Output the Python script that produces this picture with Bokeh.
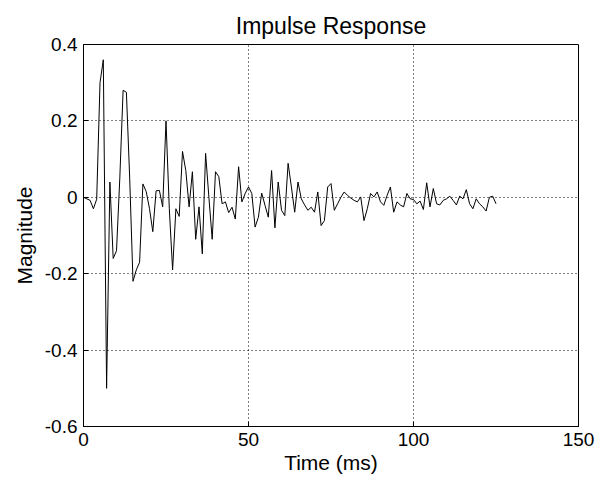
from bokeh.plotting import figure
from bokeh.models import Range1d, FixedTicker
from bokeh.embed import file_html
from bokeh.resources import INLINE

# Impulse response sampled every 1 ms
time_ms = list(range(0, 126))
magnitude = [
    0.0, -0.004, -0.008, -0.03, -0.005, 0.30, 0.36, -0.50, 0.04, -0.16,
    -0.14, 0.05, 0.28, 0.275, 0.05, -0.22, -0.19, -0.17, 0.035, 0.015,
    -0.03, -0.09, 0.017, 0.018, -0.025, 0.20, -0.03, -0.19, -0.03, -0.05,
    0.12, 0.07, -0.025, 0.067, -0.11, -0.025, -0.148, 0.115, 0.0, -0.11,
    0.067, 0.054, -0.017, -0.012, -0.04, -0.026, -0.057, 0.08, -0.012, 0.01,
    0.027, 0.01, -0.078, -0.052, 0.011, -0.021, -0.052, 0.07, -0.08, 0.04,
    -0.034, -0.048, 0.089, 0.027, -0.039, 0.04, -0.004, -0.02, -0.034, -0.026,
    -0.039, 0.014, -0.074, -0.061, 0.027, 0.036, -0.034, -0.017, 0.0, 0.014,
    0.005, -0.002, -0.008, -0.012, 0.001, -0.061, -0.03, 0.01, 0.001, 0.014,
    -0.012, -0.021, 0.005, 0.027, -0.039, -0.012, -0.02, -0.025, 0.01, -0.004,
    -0.006, -0.017, -0.01, -0.032, 0.038, -0.025, 0.023, -0.017, -0.02, -0.008,
    -0.004, 0.003, -0.008, -0.02, 0.003, -0.004, 0.02, -0.017, -0.03, -0.004,
    -0.017, -0.025, -0.036, 0.0, 0.003, -0.017,
]

x_ticks = [0, 50, 100, 150]
x_tick_labels = ["0", "50", "100", "150"]
y_ticks = [-0.6, -0.4, -0.2, 0, 0.2, 0.4]
y_tick_labels = ["-0.6", "-0.4", "-0.2", "0", "0.2", "0.4"]

FONT = "Liberation Sans"

p = figure(width=601, height=485, output_backend="svg", toolbar_location=None,
           x_range=Range1d(0, 150), y_range=Range1d(-0.6, 0.4),
           min_border_left=83, min_border_right=23, min_border_top=44,
           min_border_bottom=59, title="Impulse Response")

p.line(time_ms, magnitude, line_color="black", line_width=1)

p.title.align = "center"
p.title.text_font = FONT
p.title.text_font_size = "23px"
p.title.text_font_style = "normal"
p.title.text_color = "black"
p.title.standoff = 12

p.xaxis.ticker = FixedTicker(ticks=x_ticks)
p.yaxis.ticker = FixedTicker(ticks=y_ticks)
p.xaxis.major_label_overrides = {t: l for t, l in zip(x_ticks, x_tick_labels)}
p.yaxis.major_label_overrides = {t: l for t, l in zip(y_ticks, y_tick_labels)}

p.xaxis.axis_label = "Time (ms)"
p.yaxis.axis_label = "Magnitude"

for ax in (p.xaxis, p.yaxis):
    ax.axis_label_text_font = FONT
    ax.axis_label_text_font_size = "21px"
    ax.axis_label_text_font_style = "normal"
    ax.axis_label_text_color = "black"
    ax.major_label_text_font = FONT
    ax.major_label_text_font_size = "19px"
    ax.major_label_text_color = "black"
    ax.major_tick_in = 5
    ax.major_tick_out = 0
    ax.minor_tick_line_color = None
    ax.axis_line_color = "black"
    ax.major_tick_line_color = "black"

p.xaxis.major_label_standoff = 6
p.yaxis.major_label_standoff = 6
p.xaxis.axis_label_standoff = 2
p.yaxis.axis_label_standoff = 6

p.outline_line_color = "black"
p.outline_line_width = 1
p.outline_line_alpha = 1

p.xgrid.ticker = FixedTicker(ticks=[50, 100])
p.ygrid.ticker = FixedTicker(ticks=[-0.4, -0.2, 0, 0.2])
for g in (p.xgrid, p.ygrid):
    g.grid_line_color = "black"
    g.grid_line_dash = "1 3"
    g.grid_line_alpha = 1

p.background_fill_color = "white"
p.border_fill_color = "white"

open("out.html", "w").write(file_html(p, INLINE))
